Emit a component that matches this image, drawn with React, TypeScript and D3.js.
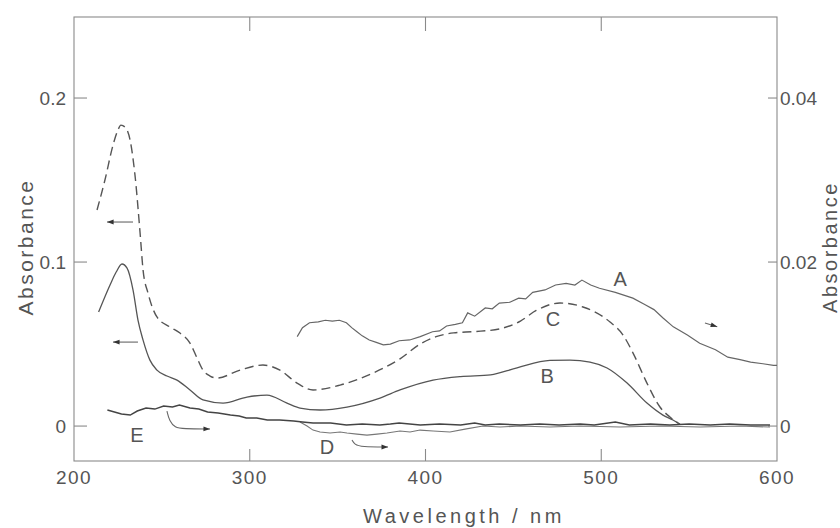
import * as d3 from 'd3';

// wavelength (nm) / absorbance pairs
// A, D, E are on the right-hand axis; B, C on the left
const curveA: [number, number][] = [
  [327, 0.0109], [330, 0.0120], [334, 0.0126], [339, 0.0127], [343, 0.0129],
  [347, 0.0128], [351, 0.0129], [355, 0.0126], [358, 0.0120], [361, 0.0115],
  [364, 0.0110], [368, 0.0105], [372, 0.0102], [376, 0.0099], [380, 0.0100],
  [385, 0.0104], [391, 0.0105], [397, 0.0109], [404, 0.0115], [408, 0.0116],
  [412, 0.0122], [417, 0.0124], [421, 0.0126], [424, 0.0138], [428, 0.0134],
  [434, 0.0144], [438, 0.0143], [442, 0.0150], [448, 0.0151], [453, 0.0156],
  [457, 0.0155], [461, 0.0163], [468, 0.0166], [474, 0.0172], [480, 0.0174],
  [485, 0.0172], [489, 0.0178], [494, 0.0172], [499, 0.0168], [508, 0.0163],
  [518, 0.0156], [525, 0.0148], [530, 0.0142], [535, 0.0132], [541, 0.0121],
  [549, 0.0111], [556, 0.0101], [565, 0.0093], [572, 0.0084], [579, 0.0081],
  [585, 0.0078], [592, 0.0076], [598, 0.0074], [600, 0.0074],
];

const curveB: [number, number][] = [
  [214, 0.0695], [220.5, 0.0860], [224, 0.0939], [227.3, 0.0988], [230.2, 0.0963],
  [233.6, 0.0829], [236.4, 0.0646], [239.3, 0.0524], [243.2, 0.0402], [247.2, 0.0341],
  [252.9, 0.0305], [258.6, 0.0280], [266, 0.0220], [273.4, 0.0159], [284.8, 0.0140],
  [298.4, 0.0177], [309.8, 0.0189], [321.2, 0.0140], [328.6, 0.0110], [340, 0.0098],
  [355.3, 0.0116], [374.1, 0.0171], [385.5, 0.0220], [404.3, 0.0280], [420, 0.0302],
  [437, 0.0312], [452.1, 0.0355], [470.8, 0.0400], [482.2, 0.0402], [493.6, 0.0390],
  [503.3, 0.0354], [514.7, 0.0262], [526, 0.0140], [535.1, 0.0067], [540.8, 0.0037],
  [544.8, 0.0012],
];

const curveC: [number, number][] = [
  [213.1, 0.1317], [217.6, 0.1500], [222.2, 0.1713], [225, 0.1805], [226.7, 0.1835],
  [229, 0.1823], [231.9, 0.1744], [234.7, 0.1530], [237.6, 0.1177], [239.3, 0.0951],
  [242.1, 0.0811], [247.2, 0.0665], [254.6, 0.0604], [260.3, 0.0567], [266, 0.0506],
  [270, 0.0415], [273.4, 0.0341], [277.4, 0.0305], [281.4, 0.0293], [294.5, 0.0341],
  [307.5, 0.0372], [317.2, 0.0341], [326.9, 0.0262], [336, 0.0220], [351.4, 0.0250],
  [370.1, 0.0323], [385.5, 0.0410], [397, 0.0500], [406, 0.0545], [416, 0.0568],
  [428, 0.0576], [442, 0.0592], [454, 0.0640], [463, 0.0705], [476.5, 0.0750],
  [489.6, 0.0726], [505, 0.0634], [512.4, 0.0555], [518.1, 0.0445], [526, 0.0262],
  [533.4, 0.0116], [539.1, 0.0055], [543.7, 0.0018],
];

const curveE: [number, number][] = [
  [219, 0.00195], [223, 0.00171], [227, 0.00146], [232, 0.00134], [236, 0.00183],
  [241, 0.00220], [246, 0.00207], [251, 0.00244], [256, 0.00232], [260, 0.00256],
  [266, 0.00220], [271, 0.00207], [276, 0.00171], [282, 0.00159], [289, 0.00134],
  [294, 0.00122], [298, 0.00098], [304, 0.00098], [310, 0.00073], [317, 0.00073],
  [325, 0.00061], [330, 0.00049], [336, 0.00037], [346, 0.00037], [355, 0.00012],
  [364, 0.00024], [374, 0.00012], [380, 0.00024], [385, 0.00037], [397, 0.00012],
  [408, 0.00024], [420, 0.00012], [428, 0.00037], [434, 0.00012], [442, 0.00024],
  [454, 0.00012], [465, 0.00024], [476, 0.00012], [488, 0.00024], [496, 0.00012],
  [508, 0.00049], [516, 0.00012], [528, 0.00024], [539, 0.00012], [550, 0.00024],
  [562, 0.00012], [573, 0.00024], [585, 0.00012], [596, 0.00012],
];

const curveD: [number, number][] = [
  [328.6, 0.00049], [332.6, 0], [336, -0.00049], [340, -0.00073], [345.7, -0.00085],
  [351.4, -0.00073], [355.3, -0.00085], [361, -0.00098], [366.7, -0.00110], [372.4, -0.00098],
  [378.1, -0.00085], [385.5, -0.00061], [391.2, -0.00073], [396.9, -0.00049], [404.3, -0.00061],
  [413.9, -0.00073], [422.5, -0.00037], [432.7, 0], [442.4, -0.00012], [453.8, 0],
  [470.8, -0.00012], [487.9, 0], [510.7, -0.00012], [533.4, 0], [556.2, -0.00012],
  [579, 0], [596, -0.00012],
];

// annotation arrows (left-axis units), head at the last point
const arrowC: [number, number][] = [[233.6, 0.1244], [218.8, 0.1244]];
const arrowB: [number, number][] = [[236.4, 0.0512], [222.2, 0.0512]];
const arrowA: [number, number][] = [[559, 0.0628], [566, 0.0606]];
const arrowE: [number, number][] = [[252.9, 0.0091], [254.3, 0.0030], [257.5, -0.0010], [262, -0.0016], [277.4, -0.0018]];
const arrowD: [number, number][] = [[358.2, -0.0085], [359.6, -0.0112], [363.5, -0.0127], [378.7, -0.0128]];

const curveLabels = [
  { text: 'A', w: 510.7, a: 0.0896 },
  { text: 'C', w: 472.5, a: 0.0652 },
  { text: 'B', w: 469.2, a: 0.0305 },
  { text: 'E', w: 235.8, a: -0.0055 },
  { text: 'D', w: 344, a: -0.0128 },
];

const xTicks = [200, 300, 400, 500, 600];
const innerXTicks = [300, 400, 500];
const leftTicks = [0, 0.1, 0.2];
const leftTickLabels = ['0', '0.1', '0.2'];
const rightTicks = [0, 0.02, 0.04];
const rightTickLabels = ['0', '0.02', '0.04'];

const W = 840;
const H = 528;
const INK = '#555';
const AXIS = '#8a8a8a';
const FONT = '"Liberation Sans", Arial, sans-serif';

export default function App() {
  const x = d3.scaleLinear().domain([200, 600]).range([74, 777]);
  const yL = d3.scaleLinear().domain([-0.0213, 0.2494]).range([461, 17]);
  const yR = d3.scaleLinear().domain([-0.0213 / 5, 0.2494 / 5]).range([461, 17]);

  const [x0, x1] = x.range();
  const [yb, yt] = yL.range();

  const smoothL = d3.line<[number, number]>().x(d => x(d[0])).y(d => yL(d[1])).curve(d3.curveMonotoneX);
  const roughR = d3.line<[number, number]>().x(d => x(d[0])).y(d => yR(d[1]));
  const arrowLine = d3.line<[number, number]>().x(d => x(d[0])).y(d => yL(d[1])).curve(d3.curveBasis);

  // small filled head at the end of an arrow path
  const head = (pts: [number, number][], size = 7) => {
    const [pw, pa] = pts[pts.length - 2];
    const [ew, ea] = pts[pts.length - 1];
    const ex = x(ew), ey = yL(ea);
    const ang = Math.atan2(ey - yL(pa), ex - x(pw));
    const p = (t: number) => [ex - size * Math.cos(ang + t), ey - size * Math.sin(ang + t)];
    const [ax, ay] = p(0.35);
    const [bx, by] = p(-0.35);
    return `M${ex},${ey}L${ax},${ay}L${bx},${by}Z`;
  };

  const arrows = [arrowC, arrowB, arrowA, arrowE, arrowD];

  return (
    <div style={{ position: 'fixed', left: 0, top: 0, background: '#fff' }}>
      <svg width={W} height={H} style={{ display: 'block' }} fontFamily={FONT}>
        <rect width={W} height={H} fill="#fff" />

        {/* frame */}
        <rect x={x0} y={yt} width={x1 - x0} height={yb - yt} fill="none" stroke={AXIS} strokeWidth={1.1} />

        {/* inner ticks on top and bottom */}
        {innerXTicks.map(t => (
          <g key={t} stroke={AXIS} strokeWidth={1.1}>
            <line x1={x(t)} x2={x(t)} y1={yb} y2={yb - 12} />
            <line x1={x(t)} x2={x(t)} y1={yt} y2={yt + 14} />
          </g>
        ))}
        {xTicks.map(t => (
          <text key={t} x={x(t)} y={484} textAnchor="middle" fontSize={19} letterSpacing={1.5} fill={INK}>
            {t}
          </text>
        ))}

        {/* left axis */}
        {leftTicks.map((t, i) => (
          <g key={t}>
            <line x1={x0} x2={x0 + 13} y1={yL(t)} y2={yL(t)} stroke={AXIS} strokeWidth={1.1} />
            <text x={66} y={yL(t)} dy="0.35em" textAnchor="end" fontSize={19} fill={INK}>
              {leftTickLabels[i]}
            </text>
          </g>
        ))}

        {/* right axis */}
        {rightTicks.map((t, i) => (
          <g key={t}>
            <line x1={x1} x2={x1 - 9} y1={yR(t)} y2={yR(t)} stroke={AXIS} strokeWidth={1.1} />
            <text x={x1 + 3} y={yR(t)} dy="0.35em" fontSize={19} fill={INK}>
              {rightTickLabels[i]}
            </text>
          </g>
        ))}

        {/* axis titles */}
        <text transform="translate(33,247) rotate(-90)" textAnchor="middle" fontSize={21} letterSpacing={2.5} fill={INK}>
          Absorbance
        </text>
        <text transform="translate(837,247) rotate(-90)" textAnchor="middle" fontSize={20} letterSpacing={2.5} fill={INK}>
          Absorbance
        </text>
        <text x={464} y={523} textAnchor="middle" fontSize={20} letterSpacing={3.5} fill={INK}>
          Wavelength / nm
        </text>

        {/* spectra */}
        <path d={smoothL(curveB) ?? ''} fill="none" stroke="#555" strokeWidth={1.3} />
        <path d={smoothL(curveC) ?? ''} fill="none" stroke="#555" strokeWidth={1.4} strokeDasharray="9 5" />
        <path d={roughR(curveA) ?? ''} fill="none" stroke="#666" strokeWidth={1.2} />
        <path d={roughR(curveD) ?? ''} fill="none" stroke="#777" strokeWidth={1.1} />
        <path d={roughR(curveE) ?? ''} fill="none" stroke="#444" strokeWidth={1.5} />

        {/* arrows pointing at the axis each curve belongs to */}
        {arrows.map((pts, i) => (
          <g key={i}>
            <path d={arrowLine(pts) ?? ''} fill="none" stroke="#666" strokeWidth={1.1} />
            <path d={head(pts)} fill="#333" />
          </g>
        ))}

        {curveLabels.map(l => (
          <text key={l.text} x={x(l.w)} y={yL(l.a)} dy="0.35em" textAnchor="middle" fontSize={20} fill={INK}>
            {l.text}
          </text>
        ))}
      </svg>
    </div>
  );
}
